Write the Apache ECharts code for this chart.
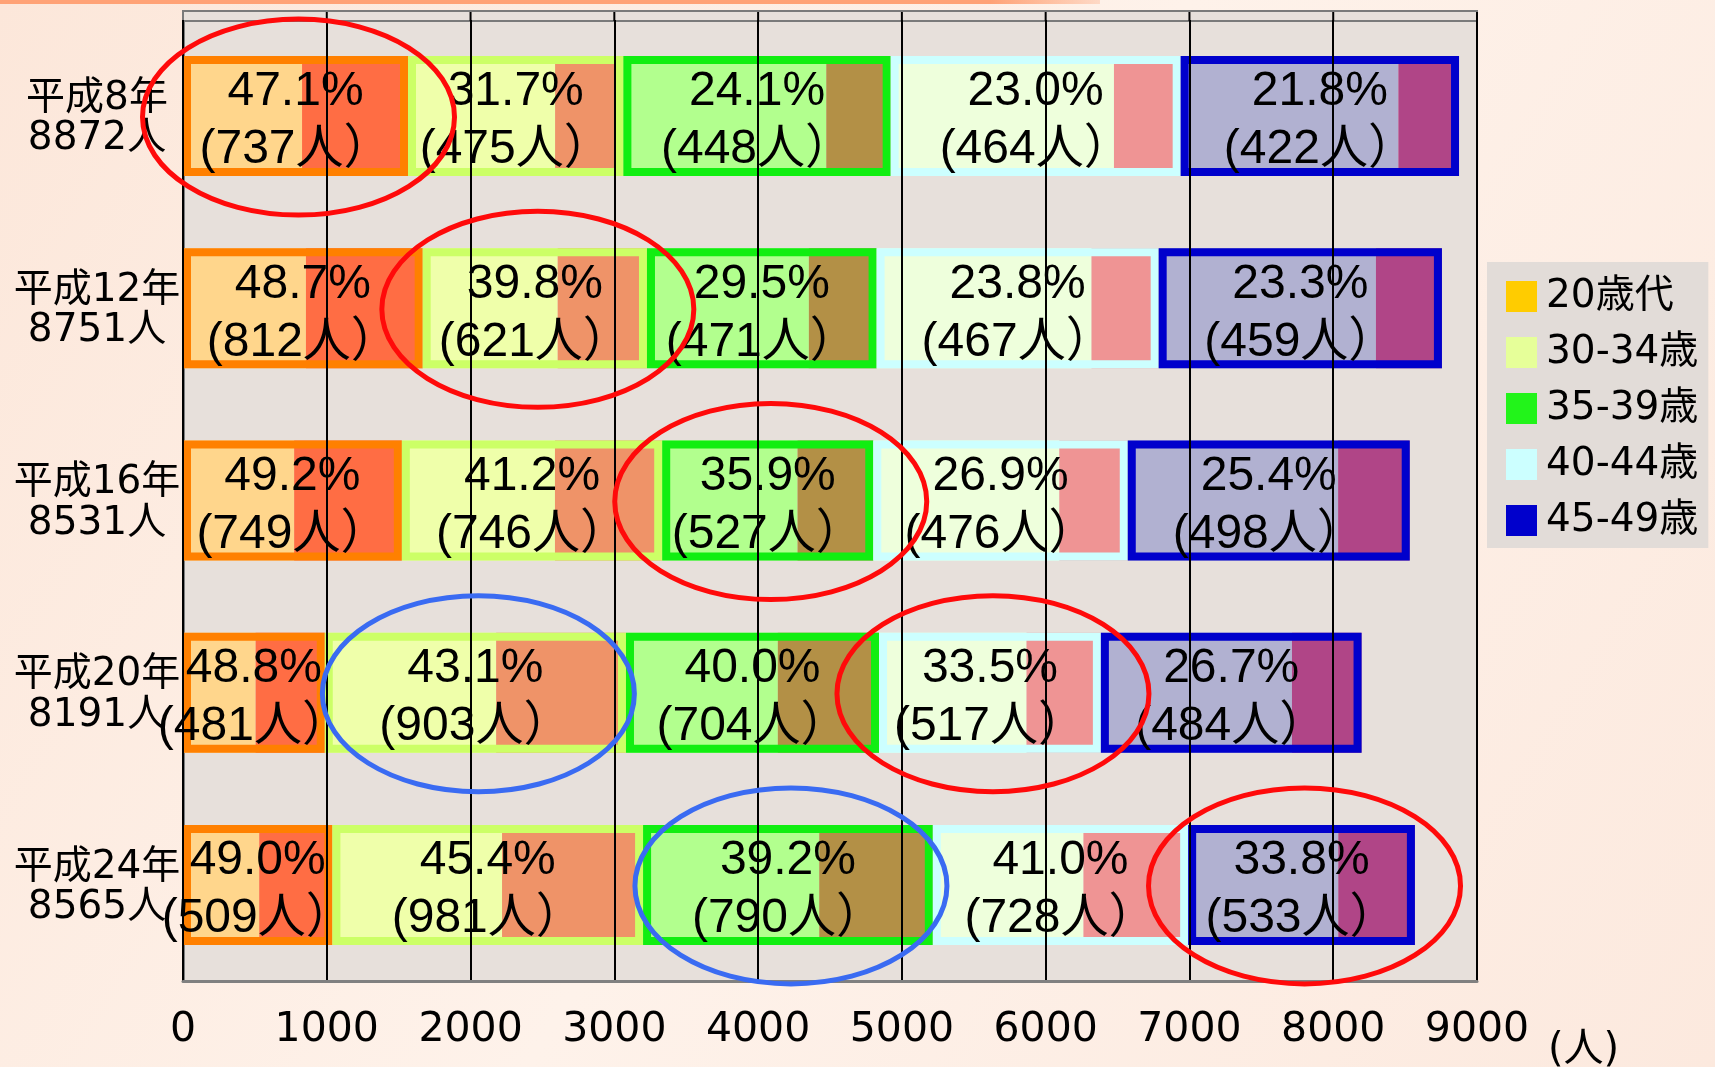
<!DOCTYPE html>
<html><head><meta charset="utf-8">
<script src="https://cdn.jsdelivr.net/npm/echarts@6/dist/echarts.min.js"></script>
<style>html,body{margin:0;padding:0;width:1715px;height:1067px;overflow:hidden;background:#FDEFE6}#c{width:1715px;height:1067px}</style>
</head><body><div id="c"></div>
<script>
// ---- data ----
const years = ['平成8年', '平成12年', '平成16年', '平成20年', '平成24年'];
const yearTotals = [8872, 8751, 8531, 8191, 8565];
const groups = ['20歳代', '30-34歳', '35-39歳', '40-44歳', '45-49歳'];
const xTicks = [0, 1000, 2000, 3000, 4000, 5000, 6000, 7000, 8000, 9000];
const unitLabel = '(人)';

// percentage shown in each box
const pct20s = [47.1, 48.7, 49.2, 48.8, 49.0];
const pct30 = [31.7, 39.8, 41.2, 43.1, 45.4];
const pct35 = [24.1, 29.5, 35.9, 40.0, 39.2];
const pct40 = [23.0, 23.8, 26.9, 33.5, 41.0];
const pct45 = [21.8, 23.3, 25.4, 26.7, 33.8];

// people counted (dark part of each box)
const count20s = [737, 812, 749, 481, 509];
const count30 = [475, 621, 746, 903, 981];
const count35 = [448, 471, 527, 704, 790];
const count40 = [464, 467, 476, 517, 728];
const count45 = [422, 459, 498, 484, 533];

// remaining people (light part of each box)
const rest20s = [828, 855, 773, 505, 530];
const rest30 = [1023, 939, 1065, 1192, 1180];
const rest35 = [1411, 1126, 941, 1056, 1225];
const rest40 = [1553, 1495, 1294, 1026, 1048];
const rest45 = [1514, 1511, 1463, 1329, 1044];

// highlighted boxes (row index, group index, ring colour)
const hlRows = [0, 1, 2, 3, 3, 4, 4];
const hlGroups = [0, 1, 2, 1, 3, 2, 4];
const hlColors = ['#FF0A0A', '#FF0A0A', '#FF0A0A', '#3A6BF2', '#FF0A0A', '#3A6BF2', '#FF0A0A'];

// ---- styles ----
const pcts = [pct20s, pct30, pct35, pct40, pct45];
const counts = [count20s, count30, count35, count40, count45];
const rests = [rest20s, rest30, rest35, rest40, rest45];
const lightColors = ['#FFD68C', '#EFFFAA', '#B2FF8E', '#EEFFDC', '#B1B1D1'];
const darkColors = ['#FF6D44', '#EF9368', '#B39046', '#EF9494', '#B04587'];
const borderColors = ['#FF8000', '#CCFF66', '#11EE11', '#CCFFFF', '#0000CC'];
const legendColors = ['#FFCC00', '#E6FF99', '#22F41A', '#CCFFFF', '#0000CC'];

const numFont = "'Liberation Sans', 'Noto Sans CJK JP', sans-serif";
const axisFont = "'DejaVu Sans', 'Noto Sans CJK JP', sans-serif";
const plotBg = '#E7E0DB';
const frameColor = '#7A7A7A';

const chart = echarts.init(document.getElementById('c'));
const series = [];
const BW = 120;
groups.forEach((g, gi) => {
  series.push({name: g + '_rest', type: 'bar', stack: 'parts', barWidth: BW, z: 2, silent: true,
    data: rests[gi], itemStyle: {color: lightColors[gi]}});
  series.push({name: g + '_n', type: 'bar', stack: 'parts', barWidth: BW, z: 2, silent: true,
    data: counts[gi], itemStyle: {color: darkColors[gi]}});
});
groups.forEach((g, gi) => {
  series.push({name: g, type: 'bar', stack: 'box', barWidth: BW, barGap: '-100%', z: 3, silent: true,
    data: rests[gi].map((r, i) => r + counts[gi][i]),
    itemStyle: {color: 'rgba(0,0,0,0)', borderColor: borderColors[gi], borderWidth: 8},
    label: {show: true, position: 'inside', color: '#000', fontFamily: numFont, fontSize: 48,
      lineHeight: 58, textBorderWidth: 0, offset: [0, 5],
      formatter: p => pcts[gi][p.dataIndex].toFixed(1) + '%\n(' + counts[gi][p.dataIndex] + '人）'}
  });
});

chart.setOption({
  animation: false,
  backgroundColor: {type: 'linear', x: 0, y: 0, x2: 1, y2: 1,
    colorStops: [{offset: 0, color: '#FCE7DA'}, {offset: 0.5, color: '#FEF2EA'}, {offset: 1, color: '#FCE9DE'}]},
  grid: {left: 183, right: 238, top: 20, bottom: 86, show: true, backgroundColor: plotBg,
    borderColor: frameColor, borderWidth: 2},
  legend: {
    orient: 'vertical', left: 1487, top: 262,
    backgroundColor: '#E2DCD8', padding: [15, 10, 8, 19],
    itemWidth: 31, itemHeight: 31, itemGap: 17, icon: 'rect',
    textStyle: {fontFamily: axisFont, fontSize: 39, color: '#000', padding: [0, 0, 0, 4]},
    data: groups.map((g, gi) => ({name: g, icon: 'rect', itemStyle: {color: legendColors[gi], borderWidth: 0}}))
  },
  xAxis: {
    type: 'value', min: 0, max: 9000, interval: 1000, z: 10,
    axisLine: {show: true, lineStyle: {color: '#808080', width: 3}},
    axisTick: {show: false},
    splitLine: {show: true, lineStyle: {color: '#000', width: 2}},
    axisLabel: {color: '#000', fontFamily: axisFont, fontSize: 41, margin: 29,
      formatter: v => xTicks.includes(v) ? String(v) : ''}
  },
  yAxis: {
    type: 'category', inverse: true, data: years.map((y, i) => y + '\n' + yearTotals[i] + '人'),
    axisLine: {show: true, lineStyle: {color: '#808080', width: 3}},
    axisTick: {show: false},
    axisLabel: {color: '#000', align: 'center', margin: 86,
      formatter: v => {
        const parts = v.split('\n');
        return '{t|' + parts[0] + '}\n{n|' + parts[1] + '}';
      },
      rich: {
        t: {fontFamily: axisFont, fontSize: 39, lineHeight: 46, color: '#000', padding: [11, 0, 0, 0]},
        n: {fontFamily: axisFont, fontSize: 39, lineHeight: 46, color: '#000'}
      }
    }
  },
  series: series
});

// rings around highlighted boxes, positioned through the axes
const rings = hlRows.map((r, k) => {
  const g = hlGroups[k];
  let start = 0;
  for (let j = 0; j < g; j++) start += rests[j][r] + counts[j][r];
  const mid = start + (rests[g][r] + counts[g][r]) / 2;
  const p = chart.convertToPixel({gridIndex: 0}, [mid, r]);
  return {type: 'ellipse', z: 100, silent: true,
    shape: {cx: p[0] + 3, cy: p[1] + 1, rx: 156, ry: 98},
    style: {fill: 'none', stroke: hlColors[k], lineWidth: 5}};
});

// small strip above the grid so the frame reaches the top like the original
const x0 = chart.convertToPixel({gridIndex: 0}, [0, 0])[0];
const x9 = chart.convertToPixel({gridIndex: 0}, [9000, 0])[0];
const strip = [{type: 'rect', z: 1, silent: true, shape: {x: x0, y: 11, width: x9 - x0, height: 10},
  style: {fill: plotBg, stroke: frameColor, lineWidth: 2}}];
xTicks.forEach(v => {
  const x = chart.convertToPixel({gridIndex: 0}, [v, 0])[0];
  strip.push({type: 'line', z: 1, silent: true, shape: {x1: x, y1: 12, x2: x, y2: 21},
    style: {stroke: v === 0 ? frameColor : '#000', lineWidth: 2}});
});

chart.setOption({graphic: [
  {type: 'rect', left: 0, top: 0, z: 50, shape: {width: 1100, height: 4},
   style: {fill: {type: 'linear', x: 0, y: 0, x2: 1, y2: 0,
     colorStops: [{offset: 0, color: '#FFA276'}, {offset: 0.9, color: '#FFA276'}, {offset: 1, color: 'rgba(255,162,118,0.3)'}]}}},
  {type: 'text', left: 1548, top: 1031, z: 50, silent: true,
   style: {text: unitLabel, fontFamily: axisFont, fontSize: 40, fill: '#000'}}
].concat(strip, rings)});
</script>
</body></html>
